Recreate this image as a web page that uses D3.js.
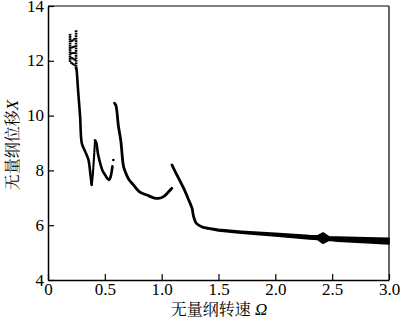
<!DOCTYPE html>
<html><head><meta charset="utf-8">
<script src="https://cdn.jsdelivr.net/npm/d3@7"></script>
<style>
html,body{margin:0;padding:0;background:#fff;}
svg{display:block;}
</style></head>
<body>
<svg id="c" width="400" height="321"></svg>
<script>
// ---- data ----
const xTicks = [0, 0.5, 1.0, 1.5, 2.0, 2.5, 3.0];
const xTickLabels = ["0", "0.5", "1.0", "1.5", "2.0", "2.5", "3.0"];
const yTicks = [4, 6, 8, 10, 12, 14];

// scattered "ladder" region near the start
const ladderOmega = [0.194, 0.207, 0.220, 0.234, 0.247];
const ladderX = [
  [12.95, 12.87, 12.79, 12.71, 12.63, 12.55, 12.47, 12.39, 12.31, 12.23, 12.15, 12.07, 11.99],
  [12.72, 12.48, 12.28, 12.1, 11.92],
  [12.75, 12.5, 12.28, 12.08, 11.88],
  [12.8, 12.52, 12.28, 12.04, 11.84],
  [13.08, 12.99, 12.9, 12.81, 12.72, 12.63, 12.54, 12.45, 12.36, 12.27, 12.18, 12.09, 12.0, 11.91, 11.82, 11.73]
];

// solid branches
const seg1Omega = [0.247, 0.252, 0.265, 0.282, 0.297, 0.32, 0.355, 0.372, 0.384];
const seg1X     = [11.75, 11.65, 10.9, 10.0, 9.0, 8.75, 8.4, 7.9, 7.47];
const seg2Omega = [0.386, 0.395, 0.405, 0.413];           // dotted jump
const seg2X     = [7.5, 7.9, 8.5, 9.05];
const seg3Omega = [0.413, 0.425, 0.44, 0.46, 0.479, 0.50, 0.52, 0.538, 0.55, 0.567];
const seg3X     = [9.1, 9.0, 8.6, 8.25, 8.0, 7.85, 7.72, 7.65, 7.75, 8.15];
const dotPoint  = [0.575, 8.38];
const seg4Omega = [0.585, 0.597, 0.62, 0.64, 0.664, 0.68, 0.71, 0.752, 0.805, 0.87, 0.93, 0.973, 1.02, 1.047, 1.09];
const seg4X     = [10.45, 10.38, 9.6, 9.1, 8.15, 7.95, 7.68, 7.47, 7.22, 7.1, 7.0, 6.98, 7.05, 7.16, 7.35];
const seg5Omega = [1.09, 1.12, 1.193, 1.24, 1.267, 1.281, 1.30, 1.326, 1.36, 1.40];
const seg5X     = [8.2, 7.95, 7.35, 6.9, 6.62, 6.31, 6.1, 6.0, 5.93, 5.89];

// thick band (multi-valued response) at high speed
const bandOmega = [1.40, 1.5, 1.7, 2.0, 2.3, 2.37, 2.42, 2.47, 2.55, 2.8, 3.0];
const bandUpper = [5.91, 5.85, 5.78, 5.70, 5.62, 5.61, 5.72, 5.58, 5.57, 5.54, 5.52];
const bandLower = [5.87, 5.79, 5.71, 5.61, 5.50, 5.48, 5.34, 5.45, 5.42, 5.36, 5.32];

// ---- layout ----
const SERIF = "Liberation Serif";
const CJK = "Noto Serif CJK SC";
const svg = d3.select("#c");
const L = 48, R = 389, T = 6, B = 280;
const x = d3.scaleLinear().domain([0, 3]).range([L, R]);
const y = d3.scaleLinear().domain([4, 14]).range([B, T]);

// frame (top/right)
svg.append("line").attr("x1", L).attr("x2", R).attr("y1", T).attr("y2", T)
  .attr("stroke", "#555").attr("stroke-width", 1.5);
svg.append("line").attr("x1", R).attr("x2", R).attr("y1", T).attr("y2", B)
  .attr("stroke", "#333").attr("stroke-width", 1.5);

// axes
const xAxis = d3.axisBottom(x).tickValues(xTicks)
  .tickFormat((d, i) => xTickLabels[i]).tickSizeInner(-6).tickSizeOuter(0).tickPadding(3);
const gx = svg.append("g").attr("transform", `translate(0,${B})`).call(xAxis);
const yAxis = d3.axisLeft(y).tickValues(yTicks).tickSizeInner(-6).tickSizeOuter(0).tickPadding(4);
const gy = svg.append("g").attr("transform", `translate(${L},0)`).call(yAxis);
[gx, gy].forEach(g => {
  g.attr("font-family", SERIF).attr("font-size", 17);
  g.select(".domain").attr("stroke", "#000").attr("stroke-width", 1.5);
  g.selectAll(".tick line").attr("stroke", "#000").attr("stroke-width", 1.2);
  g.selectAll(".tick text").attr("fill", "#000").attr("font-family", SERIF).attr("font-size", 17);
});
gy.selectAll(".tick text").attr("dy", "0.3em");

// curves
const line = d3.line().x(d => x(d[0])).y(d => y(d[1])).curve(d3.curveCatmullRom.alpha(0.5));
const zip = (a, b) => a.map((v, i) => [v, b[i]]);
const plot = svg.append("g");

function drawSeg(o, v, w, dash) {
  plot.append("path").attr("d", line(zip(o, v)))
    .attr("fill", "none").attr("stroke", "#000").attr("stroke-width", w)
    .attr("stroke-linecap", "round").attr("stroke-linejoin", "round")
    .attr("stroke-dasharray", dash || null);
}
drawSeg(seg1Omega, seg1X, 2.6);
drawSeg(seg2Omega, seg2X, 2.2, "1.2,1.3");
drawSeg(seg3Omega, seg3X, 2.6);
drawSeg(seg4Omega, seg4X, 2.8);
drawSeg(seg5Omega, seg5X, 2.8);

plot.append("circle").attr("cx", x(dotPoint[0])).attr("cy", y(dotPoint[1])).attr("r", 1.3).attr("fill", "#000");

// ladder dots
ladderOmega.forEach((o, i) => {
  ladderX[i].forEach(v => {
    plot.append("rect").attr("x", x(o) - 1.3).attr("y", y(v) - 0.9)
      .attr("width", 2.6).attr("height", 1.8).attr("fill", "#000");
  });
});

// band
const area = d3.area().x(d => x(d[0])).y0(d => y(d[2])).y1(d => y(d[1]))
  .curve(d3.curveLinear);
const bandData = bandOmega.map((o, i) => [o, bandUpper[i], bandLower[i]]);
plot.append("path").attr("d", area(bandData))
  .attr("fill", "#000").attr("stroke", "#000").attr("stroke-width", 1.6).attr("stroke-linejoin", "round");

// labels
const xl = svg.append("text").attr("x", 219).attr("y", 315).attr("text-anchor", "middle")
  .attr("font-size", 16).attr("font-family", CJK);
xl.append("tspan").text("无量纲转速 ");
xl.append("tspan").attr("font-family", SERIF).attr("font-style", "italic").attr("font-size", 17).text("Ω");

const yl = svg.append("text").attr("transform", "translate(18,145) rotate(-90)").attr("text-anchor", "middle")
  .attr("font-size", 16).attr("font-family", CJK);
yl.append("tspan").text("无量纲位移");
yl.append("tspan").attr("font-family", SERIF).attr("font-style", "italic").attr("font-size", 17).text("X");
</script>
</body></html>
